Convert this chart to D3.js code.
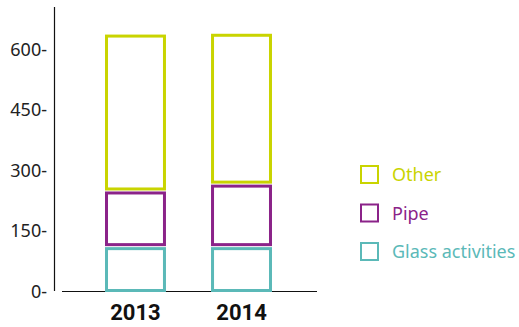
<!DOCTYPE html>
<html><head><meta charset="utf-8">
<script src="https://cdn.jsdelivr.net/npm/d3@7"></script>
<style>body{margin:0;background:#fff}svg{display:block}</style>
</head><body><svg id="c" width="519" height="327"></svg>
<script>
const years = ["2013", "2014"];
const seriesNames = ["Glass activities", "Pipe", "Other"];
const glassActivities = [110, 110];
const pipe = [138, 155];
const other = [389, 374];
const yTicks = [0, 150, 300, 450, 600];
const colors = ["#5bb9b8", "#8b2389", "#c9d400"];

const svg = d3.select("#c");
const y = d3.scaleLinear().domain([0, 600]).range([291, 49]);
const x = d3.scaleBand().domain(years).range([52, 325]).paddingInner(0.425).paddingOuter(0.5);

const rows = years.map((yr, i) => ({year: yr, "Glass activities": glassActivities[i], "Pipe": pipe[i], "Other": other[i]}));
const stacked = d3.stack().keys(seriesNames)(rows);

// axes
const yAxis = d3.axisLeft(y).tickValues(yTicks).tickSize(0).tickPadding(0).tickFormat(d => d + "-");
const gy = svg.append("g").attr("transform", "translate(47,0)").call(yAxis);
gy.select(".domain").remove();
gy.selectAll("text").attr("font-family", "Noto Sans, sans-serif").attr("font-size", 18).attr("fill", "#222").attr("dy", "0.35em").attr("x", 0);
svg.append("line").attr("x1", 54.5).attr("x2", 54.5).attr("y1", 7).attr("y2", 291).attr("stroke", "#111").attr("stroke-width", 1.2);
svg.append("line").attr("x1", 62).attr("x2", 317).attr("y1", 291.5).attr("y2", 291.5).attr("stroke", "#111").attr("stroke-width", 1.2);

const xAxis = d3.axisBottom(x).tickSize(0).tickPadding(0);
const gx = svg.append("g").attr("transform", "translate(0,320)").call(xAxis);
gx.select(".domain").remove();
gx.selectAll("text").attr("font-family", "Roboto, Liberation Sans, sans-serif").attr("font-weight", "bold").attr("font-size", 22).attr("fill", "#111").attr("dy", 0);

// bars
const inset = 2;
stacked.forEach((s, si) => {
  svg.append("g").selectAll("rect").data(s).join("rect")
    .attr("x", d => x(d.data.year) + 1.5)
    .attr("width", x.bandwidth() - 3)
    .attr("y", d => y(d[1]) + inset)
    .attr("height", d => Math.max(0, y(d[0]) - y(d[1]) - 2 * inset + (si === 0 ? 1.5 : 0)))
    .attr("fill", "none")
    .attr("stroke", colors[si])
    .attr("stroke-width", 3);
});

// legend
const legendOrder = ["Other", "Pipe", "Glass activities"];
const lg = svg.append("g");
legendOrder.forEach((name, i) => {
  const c = colors[seriesNames.indexOf(name)];
  const gy0 = 166 + i * 38.5;
  lg.append("rect").attr("x", 361).attr("y", gy0).attr("width", 17).attr("height", 17)
    .attr("fill", "none").attr("stroke", c).attr("stroke-width", 2);
  lg.append("text").attr("x", 392).attr("y", gy0 + 15).text(name)
    .attr("font-family", "Noto Sans, sans-serif").attr("font-size", 18).attr("fill", c);
});
</script></body></html>
